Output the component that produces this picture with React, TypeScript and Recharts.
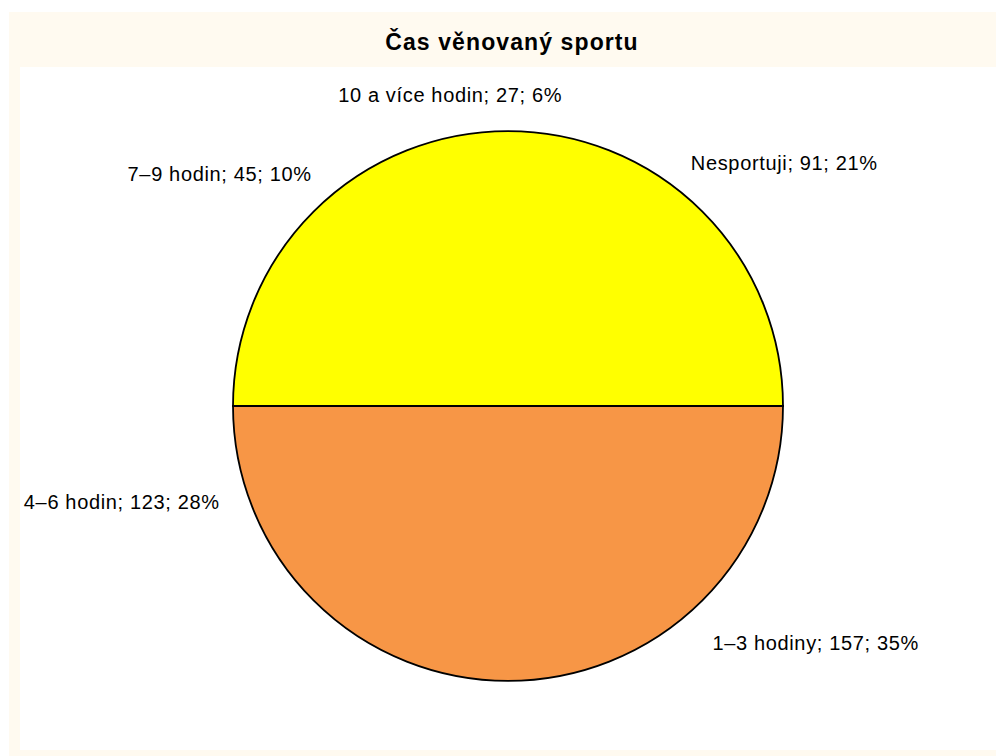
import { PieChart, Pie, Cell } from 'recharts'

const categories = ['Nesportuji', '1–3 hodiny', '4–6 hodin', '7–9 hodin', '10 a více hodin']
const counts = [91, 157, 123, 45, 27]

const slices = categories.map((name, i) => ({ name, value: counts[i] }))
const total = counts.reduce((a, b) => a + b, 0)
const whole = [{ name: 'celkem', value: total }]

const RAD = Math.PI / 180
const FONT = '"Liberation Sans", Arial, sans-serif'

// labels sit a bit outside the rim, anchored by side like the original
function renderLabel(props: any) {
  const { cx, cy, midAngle, outerRadius, name, value, percent } = props
  const r = outerRadius + 29
  const cos = Math.cos(-midAngle * RAD)
  const sin = Math.sin(-midAngle * RAD)
  const x = cx + r * cos
  let y = cy + r * sin
  let anchor: 'start' | 'end' | 'middle' = cos >= 0 ? 'start' : 'end'
  if (Math.abs(cos) < 0.35) {
    anchor = 'middle'
    y += sin < 0 ? -13 : 13
  } else if (sin > 0.5) {
    y += 12
  }
  return (
    <text
      x={x}
      y={y}
      textAnchor={anchor}
      dominantBaseline="central"
      fill="#000"
      fontSize={20}
      letterSpacing={0.65}
      fontFamily={FONT}
    >
      {`${name}; ${value}; ${Math.round(percent * 100)}%`}
    </text>
  )
}

export default function App() {
  return (
    <div style={{ position: 'absolute', left: 0, top: 0, width: 996, height: 756, background: '#fff', overflow: 'hidden' }}>
      <div style={{ position: 'absolute', left: 9, top: 12, width: 987, height: 744, background: '#fffaf0' }} />
      <div style={{ position: 'absolute', left: 20, top: 67, width: 976, height: 683, background: '#fff' }} />
      <div
        style={{
          position: 'absolute',
          left: 9,
          top: 29,
          width: 1006,
          textAlign: 'center',
          fontFamily: FONT,
          fontWeight: 'bold',
          fontSize: 23,
          letterSpacing: 1.1,
          color: '#000',
        }}
      >
        Čas věnovaný sportu
      </div>
      <div style={{ position: 'absolute', left: 0, top: 0 }}>
        <PieChart width={996} height={756} margin={{ top: 0, right: 0, bottom: 0, left: 0 }}>
          <Pie
            data={whole}
            dataKey="value"
            cx={508}
            cy={406}
            outerRadius={275}
            startAngle={0}
            endAngle={180}
            fill="#ffff00"
            stroke="#000"
            strokeWidth={1.8}
            isAnimationActive={false}
          />
          <Pie
            data={whole}
            dataKey="value"
            cx={508}
            cy={406}
            outerRadius={275}
            startAngle={180}
            endAngle={360}
            fill="#f79646"
            stroke="#000"
            strokeWidth={1.8}
            isAnimationActive={false}
          />
          <Pie
            data={slices}
            dataKey="value"
            nameKey="name"
            cx={508}
            cy={406}
            outerRadius={275}
            startAngle={90}
            endAngle={-270}
            stroke="none"
            label={renderLabel}
            labelLine={false}
            isAnimationActive={false}
          >
            {slices.map((s) => (
              <Cell key={s.name} fill="transparent" stroke="none" />
            ))}
          </Pie>
        </PieChart>
      </div>
    </div>
  )
}
